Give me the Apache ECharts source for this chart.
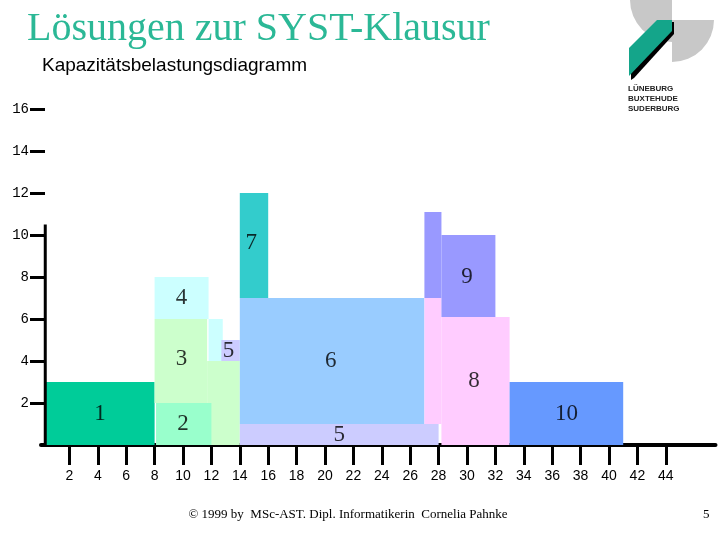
<!DOCTYPE html>
<html>
<head>
<meta charset="utf-8">
<script src="https://cdn.jsdelivr.net/npm/echarts@6/dist/echarts.min.js"></script>
<style>html,body{margin:0;padding:0;background:#fff}#c{width:720px;height:540px}</style>
</head>
<body>
<div id="c"></div>
<script>
// Blöcke: jeder Auftrag besteht aus Rechtecken [x0, x1, y0, y1] (Zeit, Kapazität)
const blockIds = ['1', '3', '2', '4', '5', '6', '7', '8', '9', '10'];
const blockPieces = [
    [[0.3, 8.0, 0, 3]],
    [[8.0, 11.7, 2, 6], [11.7, 14, 0, 4]],
    [[8.1, 12, 0, 2]],
    [[8.0, 11.8, 6, 8], [11.8, 12.8, 4, 6]],
    [[12.7, 14, 4, 5], [14, 28, 0, 1]],
    [[14, 27, 1, 7]],
    [[14, 16, 7, 12]],
    [[27, 28.2, 1, 7], [28.2, 33, 0, 6.1]],
    [[27, 28.2, 7, 11.1], [28.2, 32, 6.1, 10]],
    [[33, 41, 0, 3]]
];
const blockColors = ['#00CC99', '#CCFFCC', '#99FFCC', '#CCFFFF', '#CCCCFF', '#99CCFF', '#33CCCC', '#FFCCFF', '#9999FF', '#6699FF'];

// Beschriftungen in den Blöcken
const labelText = ['1', '2', '3', '4', '5', '6', '7', '5', '9', '8', '10'];
const labelX = [4.15, 10, 9.9, 9.9, 13.2, 20.4, 14.8, 21, 30, 30.5, 37];
const labelY = [1.5, 1.0, 4.1, 7.0, 4.5, 4.0, 9.6, 0.5, 8.0, 3.05, 1.5];

const xTicks = [2, 4, 6, 8, 10, 12, 14, 16, 18, 20, 22, 24, 26, 28, 30, 32, 34, 36, 38, 40, 42, 44];
const yTicks = [2, 4, 6, 8, 10, 12, 14, 16];

const rectData = [];
blockPieces.forEach((pieces, i) => {
    pieces.forEach(p => rectData.push([p[0], p[1], p[2], p[3], i]));
});

const chart = echarts.init(document.getElementById('c'), null, { renderer: 'canvas' });

const option = {
    animation: false,
    title: [
        {
            text: 'Lösungen zur SYST-Klausur', left: 22, top: 4,
            textStyle: { fontFamily: 'Liberation Serif', fontSize: 40, fontWeight: 'normal', color: '#2BB896' }
        },
        {
            text: 'Kapazitätsbelastungsdiagramm', left: 37, top: 51,
            textStyle: { fontFamily: 'Liberation Sans', fontSize: 19, fontWeight: 'normal', color: '#000' }
        },
        {
            text: '© 1999 by  MSc-AST. Dipl. Informatikerin  Cornelia Pahnke', left: 343, top: 503, textAlign: 'center',
            textStyle: { fontFamily: 'Liberation Serif', fontSize: 13, fontWeight: 'normal', color: '#000' }
        },
        {
            text: '5', left: 698, top: 503,
            textStyle: { fontFamily: 'Liberation Serif', fontSize: 13, fontWeight: 'normal', color: '#000' }
        }
    ],
    graphic: [
        // Logo oben rechts
        { type: 'sector', shape: { cx: 672, cy: 0, r: 42, r0: 0, startAngle: Math.PI / 2, endAngle: Math.PI }, style: { fill: '#c8c8c8' } },
        { type: 'sector', shape: { cx: 672, cy: 20, r: 42, r0: 0, startAngle: 0, endAngle: Math.PI / 2 }, style: { fill: '#c8c8c8' } },
        { type: 'polygon', shape: { points: [[631, 51], [660, 22], [674, 22], [674, 34], [634, 78], [631, 80]] }, style: { fill: '#000' } },
        { type: 'polygon', shape: { points: [[629, 48], [657, 20], [672, 20], [672, 31], [629, 76]] }, style: { fill: '#14A58A' } },
        { type: 'text', left: 628, top: 84, style: { text: 'LÜNEBURG\nBUXTEHUDE\nSUDERBURG', font: 'bold 8px Liberation Sans', lineHeight: 10, fill: '#222' } }
    ],
    grid: { left: 41, right: 4.5, top: 109, bottom: 95 },
    xAxis: {
        type: 'value', min: 0, max: 47.5,
        splitLine: { show: false },
        axisLine: { lineStyle: { color: '#000', width: 4 } },
        axisTick: { show: true, customValues: xTicks, length: 20, lineStyle: { color: '#000', width: 3 } },
        axisLabel: { customValues: xTicks, margin: 24, color: '#000', fontFamily: 'Liberation Sans', fontSize: 14 }
    },
    yAxis: {
        type: 'value', min: 0, max: 16, offset: -4,
        splitLine: { show: false },
        axisLine: { show: false },
        axisTick: { show: true, customValues: yTicks, length: 15, lineStyle: { color: '#000', width: 3 } },
        axisLabel: { customValues: yTicks, margin: 16, color: '#000', fontFamily: 'Liberation Mono', fontSize: 14 }
    },
    series: [
        {
            type: 'custom',
            data: rectData,
            renderItem: function (params, api) {
                const p0 = api.coord([api.value(0), api.value(3)]);
                const p1 = api.coord([api.value(1), api.value(2)]);
                return {
                    type: 'rect',
                    shape: { x: p0[0], y: p0[1], width: p1[0] - p0[0], height: p1[1] - p0[1] },
                    style: { fill: blockColors[api.value(4)] }
                };
            },
            z: 2
        },
        {
            type: 'line',
            data: [[0.3, 0], [0.3, 10.5]],
            symbol: 'none',
            lineStyle: { color: '#000', width: 3 },
            z: 3
        },
        {
            type: 'scatter',
            data: labelX.map((x, i) => [x, labelY[i], labelText[i]]),
            symbolSize: 0,
            label: {
                show: true, position: 'inside',
                formatter: p => p.data[2],
                fontFamily: 'Liberation Serif', fontSize: 23, color: '#000'
            },
            z: 4
        }
    ]
};

chart.setOption(option);
</script>
</body>
</html>
